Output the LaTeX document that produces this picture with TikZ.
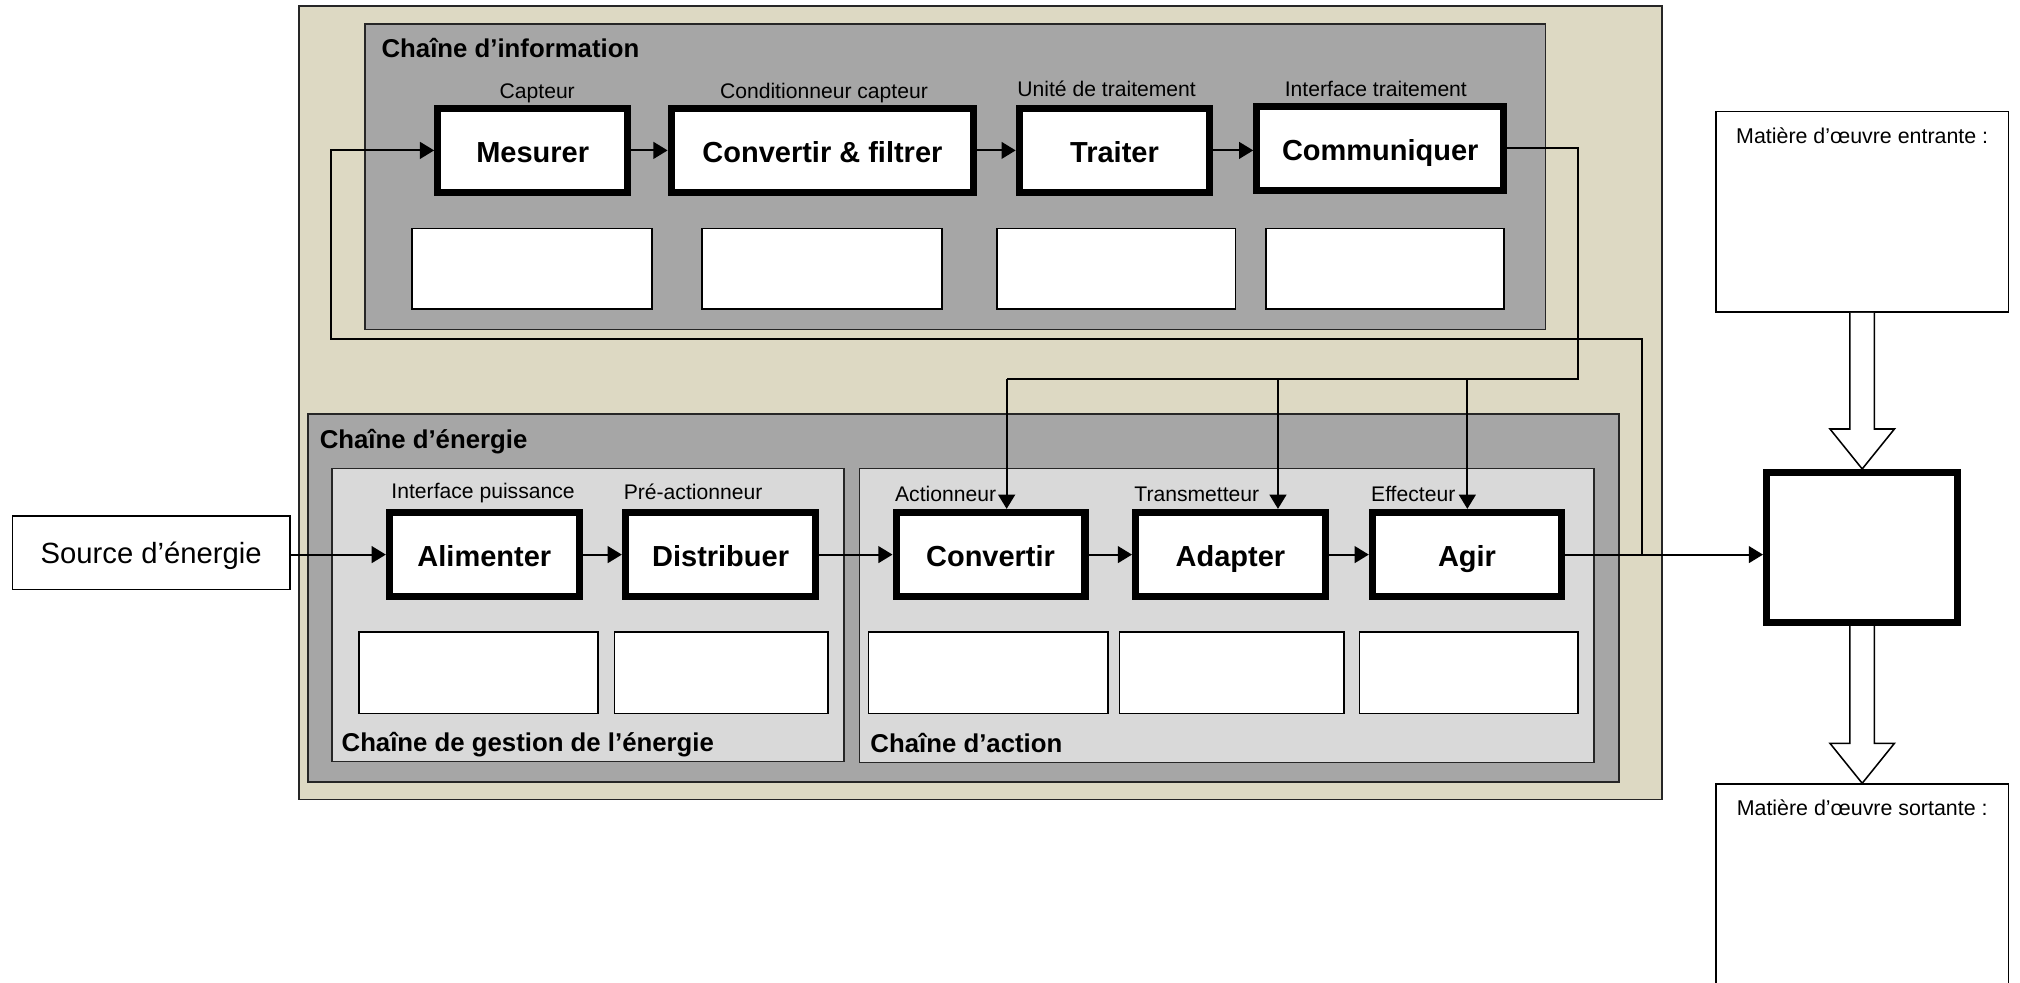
\documentclass[tikz,border=0pt]{standalone}
\usepackage{fontspec}
\setmainfont{Liberation Sans}
\usetikzlibrary{arrows.meta,calc}
\definecolor{beigebg}{RGB}{221,217,195}
\definecolor{midgray}{RGB}{166,166,166}
\definecolor{panelgray}{RGB}{217,217,217}
\newcommand\placebox[7]{%
  \node[#1, minimum width={#5-#3}, minimum height={#6-#4}] (#2) at ({(#3+#5)/2},{(#4+#6)/2}) {#7};}
\newcommand\placethick[6]{%
  \node[thickbox, minimum width={#4-#2-5.6}, minimum height={#5-#3-5.6}] (#1) at ({(#2+#4)/2},{(#3+#5)/2}) {#6};}
\begin{document}
\begin{tikzpicture}[x=1pt,y=-1pt,
  container/.style={draw=black!85, line width=1.2pt, inner sep=0pt},
  whitebox/.style={draw=black, fill=white, line width=1.2pt, inner sep=0pt},
  thickbox/.style={draw=black, fill=white, line width=5.6pt, inner sep=0pt,
    font=\fontsize{22.5}{27}\selectfont\bfseries, text height=19pt, text depth=0pt},
  lbl/.style={font=\fontsize{16.4}{19}\selectfont, inner sep=0pt, anchor=base},
  mlbl/.style={font=\fontsize{16.6}{19}\selectfont, inner sep=0pt, anchor=base},
  ttl/.style={font=\fontsize{20}{24}\selectfont\bfseries, inner sep=0pt, anchor=base west},
  conn/.style={line width=1.5pt, -{Triangle[length=11pt,width=13pt]}},
  wire/.style={line width=1.5pt},
  hollow/.style={draw=black, fill=white, line width=1.2pt, line join=miter}]
\useasboundingbox (0,0) rectangle (1568,763);
\fill[white] (0,0) rectangle (1568,763);

% containers
\placebox{container, fill=beigebg}{sys}{232}{4.7}{1290}{620.5}{}
\placebox{container, fill=midgray}{info}{283.4}{18.6}{1199.6}{255.7}{}
\placebox{container, fill=midgray}{energy}{239}{321.5}{1256.6}{607}{}
\placebox{container, fill=panelgray}{gestion}{257.6}{363.5}{655}{591}{}
\placebox{container, fill=panelgray}{action}{667}{363.5}{1237.5}{592}{}

% titles
\node[ttl] (tinfo) at (296,44.5) {Chaîne d’information};
\node[ttl] (tenergy) at (248,348) {Chaîne d’énergie};
\node[ttl] (tgestion) at (265,583.5) {Chaîne de gestion de l’énergie};
\node[ttl] (taction) at (675.5,584) {Chaîne d’action};

% small labels
\node[lbl] (lcapteur) at (417,76.5) {Capteur};
\node[lbl] (lcond) at (639.6,76.5) {Conditionneur capteur};
\node[lbl] (lunite) at (859,75) {Unité de traitement};
\node[lbl] (linterf) at (1068,75) {Interface traitement};
\node[lbl] (lpuiss) at (375,387) {Interface puissance};
\node[lbl] (lpreact) at (538,388) {Pré-actionneur};
\node[lbl] (lact) at (734,389) {Actionneur};
\node[lbl] (ltrans) at (929,389) {Transmetteur};
\node[lbl] (leff) at (1097,389) {Effecteur};

% function blocks
\placethick{mes}{337}{81.5}{490}{152}{Mesurer}
\placethick{cf}{518.2}{81.5}{758.6}{152}{Convertir \& filtrer}
\placethick{trait}{788.4}{81.5}{941.8}{152}{Traiter}
\placethick{comm}{972.8}{79.7}{1170}{150.6}{Communiquer}
\placethick{alim}{299.5}{395}{452.4}{466}{Alimenter}
\placethick{distr}{482.7}{395}{636}{466}{Distribuer}
\placethick{conv}{692.8}{395}{845}{466}{Convertir}
\placethick{adapt}{878.7}{395}{1031.6}{466}{Adapter}
\placethick{agir}{1062.5}{395}{1215}{466}{Agir}
\placethick{prod}{1368.5}{364}{1522.5}{486}{}

% empty answer boxes
\placebox{whitebox}{w1}{320}{177.4}{506}{240}{}
\placebox{whitebox}{w2}{545}{177.4}{731}{240}{}
\placebox{whitebox}{w3}{774}{177.4}{959}{240}{}
\placebox{whitebox}{w4}{982.5}{177.4}{1167.6}{240}{}
\placebox{whitebox}{e1}{278.6}{490.6}{464.3}{553.7}{}
\placebox{whitebox}{e2}{477}{490.6}{642.6}{553.7}{}
\placebox{whitebox}{e3}{674.3}{490.6}{860}{553.7}{}
\placebox{whitebox}{e4}{869}{490.6}{1043.3}{553.7}{}
\placebox{whitebox}{e5}{1055.4}{490.6}{1225}{553.7}{}

% source
\placebox{whitebox, font=\fontsize{22.7}{27}\selectfont, text height=16.6pt, text depth=0pt}{source}{9.8}{400.6}{225}{457.5}{Source d’énergie}

% matter boxes
\placebox{whitebox}{entrante}{1332}{86.7}{1559}{242.3}{}
\placebox{whitebox}{sortante}{1332}{608.6}{1559}{800}{}
\node[mlbl] (tin) at (1445.5,111) {Matière d’œuvre entrante :};
\node[mlbl] (tout) at (1445.5,633) {Matière d’œuvre sortante :};

% energy chain
\draw[conn] (alim.west -| source.east) -- (alim.west);
\draw[conn] (alim) -- (distr);
\draw[conn] (distr) -- (conv);
\draw[conn] (conv) -- (adapt);
\draw[conn] (adapt) -- (agir);
\draw[conn] (agir.east) -- (agir.east -| prod.west);

% information chain
\draw[conn] (mes) -- (cf);
\draw[conn] (cf) -- (trait);
\draw[conn] (trait.east) -- (trait.east -| comm.west);

% feedback
\coordinate (fbtop) at (1274.6,263);
\coordinate (fbleft) at (257,263);
\draw[conn] (agir.east -| fbtop) -- (fbtop) -- (fbleft) -- (fbleft |- mes.west) -- (mes.west);

% orders
\coordinate (cmdR) at (1225,294);
\coordinate (d1) at (781.4,294);
\coordinate (d2) at (992,294);
\coordinate (d3) at (1139,294);
\draw[wire] (comm.east) -| (cmdR) -- (d1);
\draw[conn] (d1) -- (d1 |- conv.north);
\draw[conn] (d2) -- (d2 |- adapt.north);
\draw[conn] (d3) -- (d3 |- agir.north);

% hollow arrows
\draw[hollow] ($(entrante.south)+(-9.5,0)$) -- ($(prod.north)+(-9.5,-31)$) -- ($(prod.north)+(-25,-31)$) -- (prod.north) -- ($(prod.north)+(25,-31)$) -- ($(prod.north)+(9.5,-31)$) -- ($(entrante.south)+(9.5,0)$);
\draw[hollow] ($(prod.south)+(-9.5,0)$) -- ($(sortante.north)+(-9.5,-31)$) -- ($(sortante.north)+(-25,-31)$) -- (sortante.north) -- ($(sortante.north)+(25,-31)$) -- ($(sortante.north)+(9.5,-31)$) -- ($(prod.south)+(9.5,0)$);
\end{tikzpicture}
\end{document}
